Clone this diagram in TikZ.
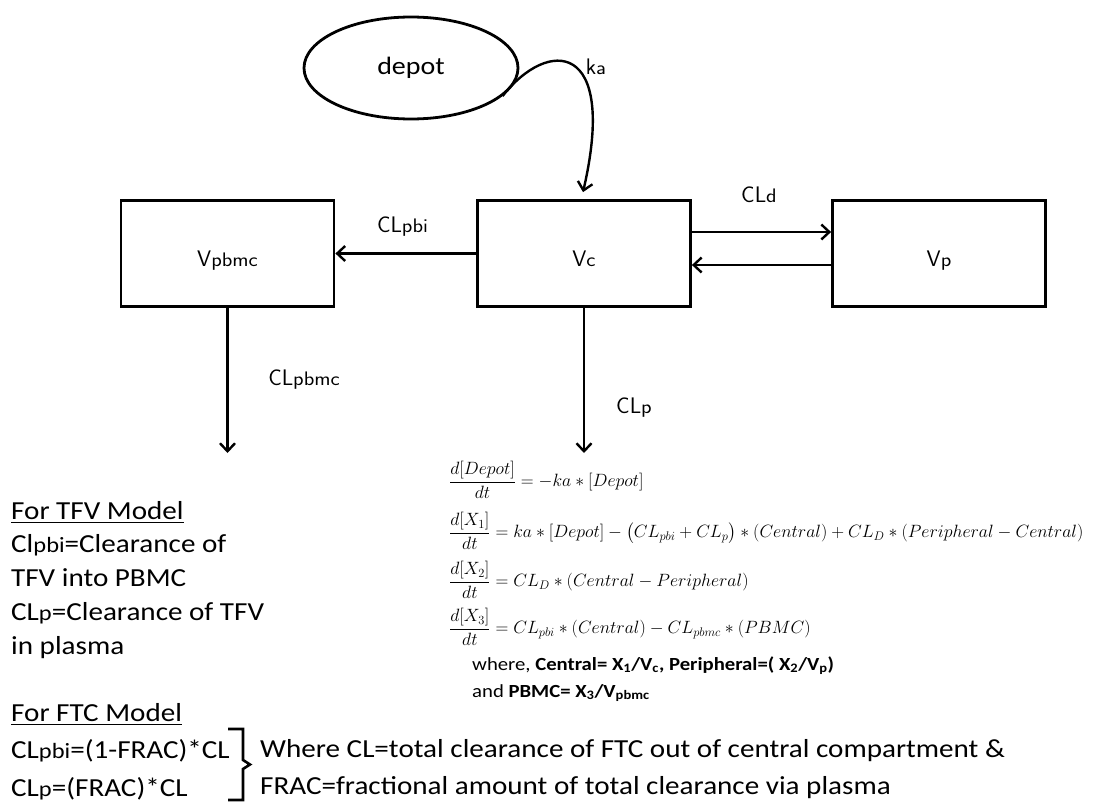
\RequirePackage{fix-cm}
\documentclass[tikz,border=0pt]{standalone}
\usepackage{fontspec}
\usepackage{amsmath}
\setmainfont{Carlito}[FakeStretch=1.12]
\setsansfont{Latin Modern Sans}
\usetikzlibrary{arrows.meta,shapes.geometric}
% lowercase tails written on the baseline (CLpbi, Vc, ...)
\newcommand\lo[1]{\scalebox{0.84}{#1}}
\newcommand\tl[1]{\scalebox{0.97}[0.87]{#1}}
\tikzset{
  comp/.style={draw, line width=2.8pt, minimum width=213pt, minimum height=106pt,
    inner sep=0pt, text height=27pt, text depth=0pt,
    font=\sffamily\fontsize{22.5}{26}\selectfont},
  tip/.style={-{Straight Barb[length=8pt,width=15pt,line width=2.4pt]}},
  flow/.style={line width=2.4pt, tip},
  lbl/.style={font=\sffamily\fontsize{22.5}{26}\selectfont, inner sep=0pt, anchor=base},
  body/.style={font=\fontsize{26}{34}\selectfont, inner sep=0pt, anchor=base west},
  eqn/.style={font=\fontsize{17.8}{22}\selectfont, inner sep=0pt, anchor=west},
  note/.style={font=\fontsize{18.5}{23}\selectfont, inner sep=0pt, anchor=base west}
}
\begin{document}
\begin{tikzpicture}[x=1pt,y=-1pt]
\useasboundingbox (0,0) rectangle (1104,805);

% compartments
\node[draw, ellipse, line width=2.8pt, minimum width=214pt, minimum height=102pt,
      inner sep=0pt, text height=14pt, text depth=0pt,
      font=\fontsize{25}{28}\selectfont] (depot) at (411,68) {depot};
\node[comp] (Vpbmc) at (227.5,253.5) {V\tl{pbmc}};
\node[comp] (Vc) at (584,253.5) {V\tl{c}};
\node[comp] (Vp) at (939,253.5) {V\tl{p}};

% absorption
\draw[line width=2.4pt, tip]
  (depot.-17) .. controls (548,38) and (618,40) .. ([yshift=7pt,xshift=-1pt]Vc.north);
\node[lbl] (ka) at (596,75) {k\tl{a}};

% transfers
\draw[flow] (Vc.west) -- (Vpbmc.east);
\node[lbl] (lpbi) at (402.5,233) {CL\tl{pbi}};
\draw[flow] ([yshift=21.5pt]Vc.east) -- ([yshift=21.5pt]Vp.west);
\draw[flow] ([yshift=-11.5pt]Vp.west) -- ([yshift=-11.5pt]Vc.east);
\node[lbl] (ld) at (759,203) {CL\tl{d}};

% eliminations
\coordinate (outPbmc) at (227.5,453);
\coordinate (outC) at (584,453);
\draw[flow] (Vpbmc.south) -- (outPbmc);
\node[lbl] (lpbmc) at (304,385) {CL\tl{pbmc}};
\draw[flow] (Vc.south) -- (outC);
\node[lbl] (lp) at (634,413) {CL\tl{p}};

% model equations
\node[eqn] (e1) at (449,480) {$\dfrac{d[Depot]}{dt}=-ka\ast[Depot]$};
\node[eqn] (e2) at (449,531) {$\dfrac{d[X_1]}{dt}=ka\ast[Depot]-\big(CL_{pbi}+CL_p\big)\ast(Central)+CL_D\ast(Peripheral-Central)$};
\node[eqn] (e3) at (449,580) {$\dfrac{d[X_2]}{dt}=CL_D\ast(Central-Peripheral)$};
\node[eqn] (e4) at (449,627) {$\dfrac{d[X_3]}{dt}=CL_{pbi}\ast(Central)-CL_{pbmc}\ast(PBMC)$};
\node[note] (where) at (472,670) {where, \textbf{Central= X\textsubscript{1}/V\textsubscript{c}, Peripheral=( X\textsubscript{2}/V\textsubscript{p})}};
\node[note] (andp) at (472,697) {and \textbf{PBMC= X\textsubscript{3}/V\textsubscript{pbmc}}};

% TFV notes
\node[body] (t1) at (11,519) {\underline{For TFV Model}};
\node[body] (t2) at (11,552.5) {Cl\lo{pbi}=Clearance of};
\node[body] (t3) at (11,586.5) {TFV into PBMC};
\node[body] (t4) at (11,620) {CL\lo{p}=Clearance of TFV};
\node[body] (t5) at (11,654) {in plasma};

% FTC notes
\node[body] (f1) at (11,721) {\underline{For FTC Model}};
\node[body] (f2) at (11,758.5) {CL\lo{pbi}=(1-FRAC)*CL};
\node[body] (f3) at (11,796) {CL\lo{p}=(FRAC)*CL};
\draw[line width=2.6pt] (228,729) -- (243,729) -- (243,760) -- (250,764.5) -- (243,769) -- (243,800) -- (228,800);
\node[body] (c1) at (260,757) {Where CL=total clearance of FTC out of central compartment \&};
\node[body] (c2) at (260,794) {FRAC=fractional amount of total clearance via plasma};
\end{tikzpicture}
\end{document}
